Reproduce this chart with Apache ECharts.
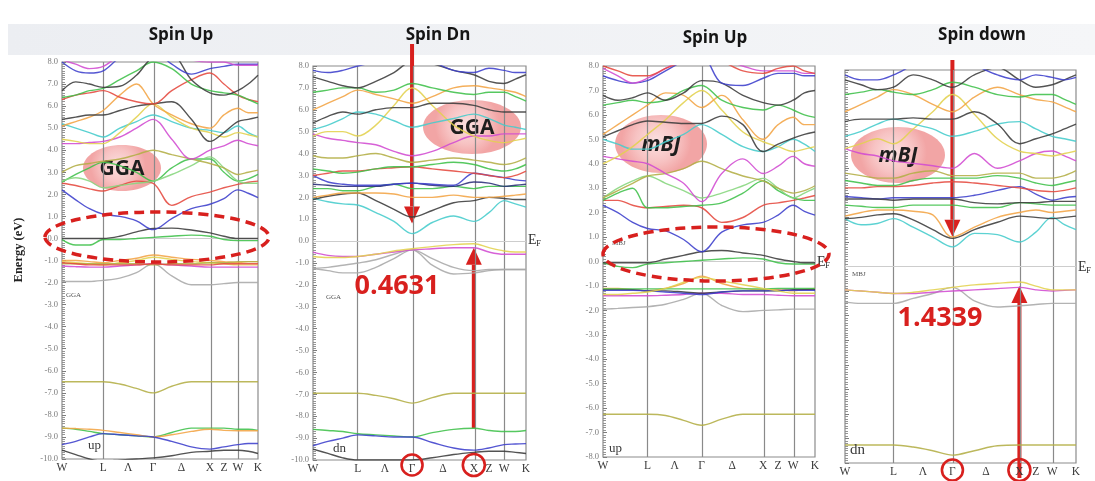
<!DOCTYPE html>
<html>
<head>
<meta charset="utf-8">
<script src="https://cdn.jsdelivr.net/npm/echarts@6/dist/echarts.min.js"></script>
<style>
  html, body { margin: 0; padding: 0; background: #ffffff; }
  #chart { width: 1095px; height: 481px; }
</style>
</head>
<body>
<div id="chart"></div>
<script>
// k-path sampling along W–L–Γ–X–W–K (fraction of path length)
const kPath = [0, 0.07, 0.14, 0.21, 0.295, 0.38, 0.465, 0.56, 0.66, 0.755, 0.826, 0.897, 0.95, 1.0];
const kLabelPos = [0, 0.21, 0.3375, 0.465, 0.61, 0.755, 0.826, 0.897, 1];
const kLabels = ['W', 'L', 'Λ', 'Γ', 'Δ', 'X', 'Z', 'W', 'K'];
const kLinePos = [0.21, 0.465, 0.755, 0.897];
const GAMMA = 6, XPT = 9;

const panelTitles = ['Spin Up', 'Spin Dn', 'Spin Up', 'Spin down'];
const methodTags = ['GGA', 'GGA', 'mBJ', 'mBJ'];
const codeTags = ['GGA', 'GGA', 'MBJ', 'MBJ'];
const spinTags = ['up', 'dn', 'up', 'dn'];
const energyRanges = [[-10, 8], [-10, 8], [-8, 8], [-8, 8]];

// GGA, spin up: band energies (eV) at kPath
const ggaUpBands = [
  [-1.95,-1.95,-1.95,-1.9,-1.8,-1.55,-1.15,-1.7,-2.1,-2.1,-2.05,-2.0,-2.0,-2.0],
  [-1.25,-1.28,-1.3,-1.3,-1.25,-1.2,-1.15,-1.2,-1.25,-1.3,-1.3,-1.3,-1.3,-1.3],
  [-1.05,-1.1,-1.15,-1.2,-1.1,-1.0,-0.85,-0.95,-1.05,-1.1,-1.15,-1.2,-1.2,-1.2],
  [-1.0,-1.0,-1.05,-1.1,-1.0,-0.9,-0.75,-0.85,-0.95,-1.0,-1.05,-1.1,-1.05,-1.05],
  [-1.15,-1.15,-1.15,-1.15,-1.15,-1.15,-1.2,-1.15,-1.15,-1.1,-1.1,-1.05,-1.05,-1.05],
  [-1.1,-1.15,-1.2,-1.2,-1.2,-1.2,-1.15,-1.2,-1.2,-1.2,-1.15,-1.15,-1.15,-1.15],
  [-0.05,-0.3,-0.3,-0.05,-0.05,0.0,0.05,0.1,0.15,0.1,-0.05,-0.1,-0.1,-0.1],
  [0.0,0.0,0.0,0.0,0.1,0.3,0.45,0.47,0.38,0.25,0.1,0.0,0.0,0.0],
  [2.2,1.75,1.35,1.1,1.0,0.8,0.4,0.9,1.35,1.55,1.8,2.2,2.05,1.85],
  [2.5,2.4,2.25,2.15,2.4,2.6,2.5,1.5,1.9,2.1,2.3,2.45,2.55,2.6],
  [2.55,2.9,3.2,3.45,3.3,3.0,2.6,3.2,3.6,3.6,3.0,2.6,2.7,2.9],
  [2.6,2.75,2.6,2.3,2.4,2.5,2.6,2.9,3.3,3.7,3.2,2.6,2.5,2.5],
  [3.0,3.3,3.4,3.5,3.6,3.8,4.0,3.8,3.6,3.4,3.2,2.9,3.0,3.1],
  [4.3,4.3,4.35,4.4,4.6,5.0,5.4,4.5,3.6,4.0,4.2,4.45,4.3,4.2],
  [5.2,5.0,4.8,4.6,5.0,5.3,5.6,5.3,5.0,4.9,4.8,5.1,4.8,4.6],
  [4.5,4.4,4.3,4.3,4.8,5.5,6.1,5.5,5.0,4.8,4.6,4.8,4.7,4.6],
  [5.1,5.3,5.5,5.8,6.5,7.0,6.1,5.6,5.2,5.0,5.6,5.9,5.7,5.7],
  [5.4,5.5,5.6,5.6,5.8,6.0,6.1,6.2,5.4,4.4,4.8,5.3,5.4,5.5],
  [6.3,6.5,6.6,6.7,6.4,6.2,6.1,6.7,7.2,7.5,7.0,6.5,6.3,6.2],
  [6.4,6.5,6.7,6.8,7.2,7.6,8.0,7.7,7.0,6.7,6.6,6.5,6.3,6.1],
  [6.7,7.1,7.0,6.85,6.9,7.4,8.2,8.3,7.2,6.6,6.5,6.7,7.0,7.4],
  [8.0,7.6,7.5,7.6,8.2,8.5,8.5,7.9,7.45,7.7,7.8,7.9,7.9,7.9],
  [8.1,7.9,7.7,7.8,8.3,8.5,8.5,8.5,8.1,8.0,8.0,7.85,7.85,7.85],
  [-6.5,-6.5,-6.5,-6.5,-6.6,-6.8,-7.0,-6.7,-6.5,-6.5,-6.5,-6.5,-6.5,-6.5],
  [-8.6,-8.65,-8.75,-8.85,-8.9,-8.95,-9.0,-8.8,-8.6,-8.6,-8.6,-8.65,-8.65,-8.7],
  [-8.6,-8.62,-8.65,-8.7,-8.8,-8.9,-9.0,-8.9,-8.75,-8.65,-8.7,-8.72,-8.72,-8.72],
  [-9.35,-9.2,-9.0,-8.85,-8.9,-8.95,-9.0,-9.2,-9.45,-9.55,-9.45,-9.35,-9.3,-9.3],
  [-9.6,-9.8,-10.0,-10.1,-10.05,-10.0,-9.95,-9.85,-9.7,-9.65,-9.6,-9.6,-9.65,-9.75]
];
const ggaUpColors = ['gray','magenta','yellow','orange','olive','red','green','dark','blue','red','green','lime','olive',
  'magenta','cyan','yellow','orange','dark','red','green','dark','blue','magenta','olive','green','orange','blue','dark'];

// GGA, spin down
const ggaDnBands = [
  [-1.25,-1.35,-1.45,-1.45,-1.2,-0.8,-0.4,-1.1,-1.5,-1.45,-1.35,-1.3,-1.3,-1.3],
  [-1.25,-1.2,-1.1,-1.0,-0.85,-0.6,-0.4,-0.8,-1.2,-1.35,-1.3,-1.3,-1.3,-1.3],
  [-0.5,-0.65,-0.7,-0.7,-0.6,-0.5,-0.4,-0.35,-0.3,-0.3,-0.5,-0.6,-0.6,-0.6],
  [-0.7,-0.75,-0.75,-0.7,-0.6,-0.45,-0.35,-0.25,-0.16,-0.12,-0.3,-0.45,-0.5,-0.5],
  [1.95,1.8,1.7,1.65,1.3,0.9,0.3431,0.85,1.15,0.9,1.3,1.85,1.7,1.55],
  [1.9,2.05,2.15,2.2,1.85,1.45,1.1,1.4,1.75,1.85,2.0,1.95,1.9,1.9],
  [2.0,2.1,2.2,2.2,2.2,2.15,2.0,2.0,2.1,2.0,2.0,2.05,2.1,2.15],
  [2.4,2.4,2.3,2.3,2.5,2.6,2.4,2.4,2.5,2.4,2.5,2.5,2.5,2.5],
  [2.6,2.55,2.5,2.5,2.5,2.6,2.65,2.55,2.5,2.7,2.65,2.5,2.55,2.6],
  [3.0,2.7,2.6,2.55,2.55,2.6,2.65,2.6,2.55,3.1,3.0,2.9,2.8,2.75],
  [3.0,3.1,3.2,3.2,3.3,3.35,3.4,3.3,3.2,3.1,3.0,2.9,3.0,3.2],
  [3.3,3.2,3.1,3.15,3.3,3.4,3.4,3.5,3.6,3.5,3.3,3.2,3.3,3.5],
  [3.9,3.8,3.8,3.9,4.0,3.8,3.6,3.7,3.8,3.7,3.6,3.5,3.6,3.8],
  [4.9,4.7,4.6,4.5,4.4,4.1,3.9,4.1,4.5,4.8,4.8,4.9,4.9,4.9],
  [4.8,5.0,5.0,4.8,5.3,6.2,7.0,6.2,5.3,4.8,4.6,4.5,4.6,4.7],
  [5.1,5.3,5.6,5.9,5.8,5.5,5.2,5.4,5.6,5.8,5.6,5.3,5.2,5.1],
  [5.4,5.7,5.9,5.8,6.0,6.1,6.1,6.3,6.3,6.2,6.0,5.9,5.9,5.9],
  [6.0,6.3,6.6,6.9,6.7,6.5,6.3,6.6,7.0,7.1,7.0,6.9,6.8,6.6],
  [6.8,6.9,7.0,7.0,6.8,6.9,7.2,7.0,6.8,6.7,6.8,6.8,6.6,6.4],
  [7.5,7.3,7.1,7.0,7.3,7.7,8.2,8.1,7.8,7.6,7.3,7.2,7.4,7.6],
  [7.8,7.7,7.8,8.0,8.2,8.5,8.5,8.2,7.8,7.7,7.9,7.8,7.7,7.7],
  [-6.95,-6.95,-6.95,-6.95,-7.05,-7.2,-7.4,-7.15,-6.95,-6.95,-6.95,-6.95,-6.95,-6.95],
  [-8.6,-8.65,-8.7,-8.8,-8.85,-8.9,-8.95,-8.75,-8.6,-8.55,-8.65,-8.7,-8.7,-8.65],
  [-9.35,-9.15,-9.0,-8.85,-8.9,-8.95,-8.95,-9.2,-9.45,-9.55,-9.45,-9.3,-9.27,-9.25],
  [-9.5,-9.7,-9.9,-10.0,-10.0,-10.0,-10.0,-9.9,-9.75,-9.65,-9.6,-9.6,-9.65,-9.7]
];
const ggaDnColors = ['gray','gray','magenta','yellow','cyan','dark','orange','green','navy','blue','red','green','olive',
  'magenta','yellow','cyan','dark','orange','green','dark','blue','olive','green','blue','dark'];

// mBJ, spin up
const mbjUpBands = [
  [-1.95,-1.92,-1.88,-1.85,-1.75,-1.55,-1.3,-1.8,-2.05,-2.0,-1.98,-1.95,-1.95,-1.95],
  [-1.4,-1.4,-1.4,-1.4,-1.38,-1.35,-1.3,-1.3,-1.35,-1.35,-1.38,-1.4,-1.4,-1.4],
  [-1.1,-1.1,-1.15,-1.2,-1.1,-0.9,-0.6,-0.9,-1.1,-1.15,-1.15,-1.2,-1.15,-1.1],
  [-1.15,-1.15,-1.15,-1.2,-1.2,-1.25,-1.3,-1.25,-1.2,-1.2,-1.2,-1.15,-1.15,-1.15],
  [-1.12,-1.12,-1.12,-1.12,-1.12,-1.12,-1.12,-1.12,-1.12,-1.12,-1.1,-1.1,-1.1,-1.1],
  [-1.18,-1.18,-1.18,-1.2,-1.25,-1.3,-1.35,-1.25,-1.2,-1.2,-1.18,-1.18,-1.18,-1.18],
  [-1.35,-1.35,-1.3,-1.25,-1.1,-0.85,-0.65,-0.8,-0.95,-1.1,-1.2,-1.3,-1.3,-1.3],
  [-0.05,-0.2,-0.25,-0.1,-0.05,0.0,0.05,0.1,0.15,0.1,-0.05,-0.1,-0.1,-0.1],
  [-0.05,-0.05,-0.05,-0.05,0.1,0.25,0.4,0.45,0.35,0.25,0.1,0.0,-0.05,-0.05],
  [2.3,2.0,1.6,1.35,1.25,0.9,0.4,1.2,1.5,1.6,1.9,2.3,2.05,1.9],
  [2.5,2.5,2.3,2.2,2.25,2.3,2.2,1.6,1.8,2.3,2.4,2.5,2.6,2.7],
  [2.5,2.8,3.0,2.2,2.2,2.25,2.3,2.4,2.8,3.3,2.9,2.6,2.5,2.5],
  [2.6,3.0,3.3,3.5,3.2,2.9,2.6,2.8,3.1,3.4,3.0,2.6,2.8,3.0],
  [2.6,2.9,3.2,3.5,3.6,3.8,4.1,3.8,3.5,3.3,3.0,2.8,2.9,3.1],
  [4.3,4.2,4.1,4.0,3.6,3.2,2.45,3.6,4.2,3.6,3.9,4.3,4.0,3.9],
  [5.0,4.8,4.6,4.6,4.9,5.2,5.6,5.2,4.7,4.5,4.7,5.0,4.8,4.5],
  [4.0,4.3,4.7,5.2,5.8,6.5,7.0,6.2,5.3,4.9,4.7,4.5,4.6,4.7],
  [5.1,5.35,5.6,5.75,5.7,5.65,5.65,5.95,5.6,4.5,4.8,5.05,5.2,5.3],
  [5.2,5.6,6.0,6.4,6.9,6.8,6.3,6.8,5.8,5.0,5.6,5.9,5.6,5.6],
  [6.4,6.5,6.6,6.5,6.6,7.0,7.2,6.6,6.3,6.2,6.4,6.2,6.0,5.9],
  [6.8,6.6,6.7,6.9,6.6,6.9,7.4,7.3,6.8,6.5,6.4,6.6,6.9,7.0],
  [7.6,7.4,7.3,7.4,7.8,8.2,8.4,7.3,7.2,7.5,7.7,7.7,7.6,7.6],
  [7.9,7.6,7.3,7.5,7.9,8.3,8.5,8.3,8.0,7.8,7.8,7.8,7.7,7.7],
  [8.0,7.8,7.6,7.6,7.9,8.2,8.5,8.2,7.8,7.7,7.9,8.0,7.8,7.7],
  [-6.25,-6.25,-6.25,-6.25,-6.3,-6.5,-6.7,-6.45,-6.25,-6.25,-6.25,-6.25,-6.25,-6.25]
];
const mbjUpColors = ['gray','magenta','orange','dark','green','blue','yellow','green','dark','blue','red','green','lime',
  'olive','magenta','cyan','yellow','dark','orange','green','dark','blue','magenta','red','olive'];

// mBJ, spin down
const mbjDnBands = [
  [-1.45,-1.5,-1.5,-1.5,-1.3,-1.1,-0.85,-1.4,-1.65,-1.6,-1.55,-1.5,-1.5,-1.5],
  [-0.95,-1.0,-1.05,-1.1,-1.1,-1.05,-1.0,-0.95,-0.9,-0.85,-0.95,-1.0,-0.97,-0.95],
  [-0.95,-1.0,-1.05,-1.1,-1.05,-0.95,-0.85,-0.75,-0.68,-0.6339,-0.8,-0.95,-0.95,-0.95],
  [1.95,1.7,1.75,1.95,1.6,1.2,0.8,1.35,1.3,1.0,1.4,2.0,1.7,1.5],
  [1.95,2.0,2.1,2.15,1.9,1.5,1.15,1.5,1.8,2.05,2.0,1.95,2.0,2.05],
  [2.05,2.2,2.3,2.3,2.25,2.1,1.2,1.6,2.0,2.2,2.3,2.2,2.25,2.3],
  [2.5,2.45,2.4,2.4,2.5,2.5,2.5,2.4,2.4,2.6,2.55,2.5,2.5,2.5],
  [2.85,2.8,2.75,2.8,2.8,2.8,2.8,2.9,3.1,3.25,2.95,2.7,2.8,2.85],
  [2.75,2.75,2.75,2.7,2.75,2.75,2.75,2.6,2.55,2.6,2.6,2.65,2.65,2.65],
  [3.2,3.2,3.25,3.25,3.3,3.4,3.45,3.4,3.3,3.2,3.1,3.05,3.1,3.2],
  [3.5,3.4,3.3,3.3,3.5,3.6,3.6,3.6,3.7,3.6,3.4,3.3,3.4,3.5],
  [3.8,3.7,3.6,3.6,3.8,3.9,3.7,3.7,3.8,3.8,3.6,3.6,3.7,3.9],
  [4.8,4.6,4.5,4.3,4.2,4.1,4.0,4.6,4.0,4.3,4.6,4.7,4.5,4.3],
  [4.8,5.0,5.2,5.0,5.6,6.3,7.0,6.2,5.2,4.7,4.6,4.5,4.6,4.7],
  [5.3,5.5,5.8,6.0,5.8,5.6,5.3,5.5,5.8,5.9,5.6,5.3,5.2,5.1],
  [5.9,6.0,6.0,6.0,6.05,6.0,6.0,6.3,5.8,5.0,5.2,5.4,5.6,5.8],
  [6.3,6.6,6.9,7.2,7.0,6.6,6.3,6.9,7.3,7.0,6.8,6.7,6.5,6.3],
  [7.0,7.1,7.2,7.1,7.0,7.2,7.5,7.3,7.0,6.9,7.0,7.0,6.8,6.6],
  [7.6,7.4,7.2,7.3,7.8,7.6,7.3,7.8,8.1,7.6,7.3,7.4,7.6,7.8],
  [7.8,7.6,7.6,7.8,8.2,8.5,8.5,8.2,7.8,7.6,7.8,7.7,7.6,7.7],
  [-7.27,-7.27,-7.27,-7.27,-7.35,-7.5,-7.68,-7.5,-7.3,-7.27,-7.27,-7.27,-7.27,-7.27]
];
const mbjDnColors = ['gray','magenta','yellow','cyan','dark','orange','green','blue','dark','red','green','olive',
  'magenta','yellow','cyan','dark','orange','green','dark','blue','olive'];

// which band holds the conduction minimum (at Γ) and valence maximum (at X)
const gapPanels = [1, 3];
const gapCbmBand = [4, 3];
const gapVbmBand = [3, 2];

const palette = {
  gray: '#a9a9a9', magenta: '#d24bd2', yellow: '#e2d24e', orange: '#f2a444', olive: '#b3ae45',
  red: '#e5493f', green: '#3fc04a', lime: '#86d67d', dark: '#3b3b3b', blue: '#3c3fcc',
  navy: '#2c2f7a', cyan: '#45cccc'
};

const panelBands = [ggaUpBands, ggaDnBands, mbjUpBands, mbjDnBands];
const panelColors = [ggaUpColors, ggaDnColors, mbjUpColors, mbjDnColors];

const gridBoxes = [
  { left: 62, top: 62, width: 196, height: 397 },
  { left: 313, top: 66, width: 213, height: 394 },
  { left: 603, top: 66, width: 212, height: 391 },
  { left: 845, top: 70, width: 231, height: 393 }
];

const serif = 'Liberation Serif, DejaVu Serif, serif';
const chart = echarts.init(document.getElementById('chart'), null, { renderer: 'canvas' });

function kLabelFor(v) {
  for (let i = 0; i < kLabelPos.length; i++) {
    if (Math.abs(kLabelPos[i] - v) < 1e-6) return kLabels[i];
  }
  return '';
}

const grid = gridBoxes.map(b => Object.assign({
  show: true, borderColor: '#8c8c8c', borderWidth: 1.2, backgroundColor: 'transparent',
  containLabel: false, outerBoundsMode: 'none'
}, b));

const xAxis = gridBoxes.map((b, i) => ({
  gridIndex: i, type: 'value', min: 0, max: 1,
  axisLine: { show: false }, splitLine: { show: false }, axisTick: { show: false },
  axisLabel: {
    customValues: kLabelPos, formatter: kLabelFor, showMinLabel: true, showMaxLabel: true,
    hideOverlap: false, fontFamily: serif, fontSize: 11.5, color: '#3a3a3a', margin: 3
  }
}));

const yAxis = gridBoxes.map((b, i) => ({
  gridIndex: i, type: 'value', min: energyRanges[i][0], max: energyRanges[i][1], interval: 1,
  axisLine: { show: false }, splitLine: { show: false },
  axisTick: { show: true, inside: true, length: 4, lineStyle: { color: '#7c7c7c', width: 1 } },
  minorTick: { show: true, splitNumber: 10, length: 3, lineStyle: { color: '#8a8a8a', width: 0.9 } },
  axisLabel: {
    show: i < 3, formatter: v => v.toFixed(1), fontFamily: serif, fontSize: 8.5,
    color: '#7a7a7a', margin: 4, showMinLabel: true, showMaxLabel: true
  }
}));

const series = [];
panelBands.forEach((bands, p) => {
  bands.forEach((e, b) => {
    const s = {
      type: 'line', xAxisIndex: p, yAxisIndex: p, silent: true,
      data: kPath.map((k, j) => [k, e[j]]),
      smooth: 0.35, showSymbol: false, clip: true, z: 3,
      lineStyle: { color: palette[panelColors[p][b]], width: 1.4, opacity: 0.88 }
    };
    if (b === 0) {
      s.markLine = {
        silent: true, symbol: 'none', animation: false, label: { show: false }, z: 1,
        data: kLinePos.map(x => ({ xAxis: x, lineStyle: { color: '#8a8a8a', width: 1.2, type: 'solid' } }))
          .concat([{ yAxis: 0, lineStyle: { color: '#cdcdcd', width: 1.2, type: 'solid' } }])
      };
    }
    series.push(s);
  });
});

chart.setOption({
  animation: false,
  backgroundColor: '#ffffff',
  grid, xAxis, yAxis, series
});

// ---- annotations ----
const px = (p, k, e) => chart.convertToPixel({ gridIndex: p }, [k, e]);
const RED = '#d8201e';

function vArrow(x, yStart, yTip) {
  const dir = yTip > yStart ? 1 : -1;
  const headLen = 17, headHalf = 8;
  const yBase = yTip - dir * headLen;
  return {
    type: 'group', z: 60, children: [
      { type: 'line', shape: { x1: x, y1: yStart, x2: x, y2: yBase }, style: { stroke: RED, lineWidth: 4 } },
      { type: 'polygon', shape: { points: [[x - headHalf, yBase], [x + headHalf, yBase], [x, yTip]] }, style: { fill: RED } }
    ]
  };
}

function pinkBadge(cx, cy, rx, ry, label) {
  return {
    type: 'group', z: 50, children: [
      {
        type: 'ellipse', shape: { cx, cy, rx, ry },
        style: {
          fill: {
            type: 'radial', x: 0.45, y: 0.45, r: 0.6,
            colorStops: [{ offset: 0, color: '#fbe0e0' }, { offset: 0.6, color: '#f7c3c3' }, { offset: 1, color: '#f2a5a5' }]
          }
        }
      },
      {
        type: 'text', x: cx, y: cy + 1,
        style: {
          text: label, fill: '#1e1e1e', font: (label === 'mBJ' ? 'italic ' : '') + 'bold 21px "Open Sans", sans-serif',
          textAlign: 'center', textVerticalAlign: 'middle'
        }
      }
    ]
  };
}

function dashedRing(cx, cy, rx, ry) {
  return {
    type: 'ellipse', z: 55, shape: { cx, cy, rx, ry },
    style: { fill: null, stroke: RED, lineWidth: 3.5, lineDash: [10, 6] }
  };
}

function ring(cx, cy, r) {
  return { type: 'circle', z: 55, shape: { cx, cy, r }, style: { fill: null, stroke: RED, lineWidth: 2.6 } };
}

function smallText(x, y, text, size, color) {
  return { type: 'text', z: 40, x, y, style: { text, font: size + 'px ' + serif, fill: color || '#444' } };
}

function fermiLabel(x, y) {
  return {
    type: 'group', z: 40, children: [
      { type: 'text', x, y, style: { text: 'E', font: '14px ' + serif, fill: '#333' } },
      { type: 'text', x: x + 8, y: y + 6, style: { text: 'F', font: '9px ' + serif, fill: '#333' } }
    ]
  };
}

const graphics = [];

// header band and panel titles
graphics.push({
  type: 'rect', z: 0, shape: { x: 8, y: 24, width: 1087, height: 31 },
  style: { fill: { type: 'linear', x: 0, y: 0, x2: 1, y2: 0, colorStops: [{ offset: 0, color: '#eceef2' }, { offset: 1, color: '#f5f6f8' }] } }
});
const titleX = [181, 438, 715, 982];
const titleY = [35, 35, 38, 35];
panelTitles.forEach((t, i) => graphics.push({
  type: 'text', z: 45, x: titleX[i], y: titleY[i],
  style: { text: t, font: 'bold 17px "Open Sans", sans-serif', fill: '#151515', textAlign: 'center', textVerticalAlign: 'middle' }
}));

// axis name
graphics.push({
  type: 'text', z: 40, x: 19, y: 250, rotation: Math.PI / 2,
  style: { text: 'Energy (eV)', font: 'bold 12.5px ' + serif, fill: '#222', textAlign: 'center', textVerticalAlign: 'middle' }
});

// code and spin tags inside the panels
const codeTagPos = [[66, 292], [326, 294], [612, 240], [852, 271]];
const spinTagPos = [[88, 439], [333, 442], [609, 442], [850, 443]];
const spinTagSize = [13, 13, 13, 15];
codeTags.forEach((t, i) => graphics.push(smallText(codeTagPos[i][0], codeTagPos[i][1], t, 7, '#555')));
spinTags.forEach((t, i) => graphics.push(smallText(spinTagPos[i][0], spinTagPos[i][1], t, spinTagSize[i], '#3a3a3a')));

// Fermi level labels
graphics.push(fermiLabel(528, 233));
graphics.push(fermiLabel(817, 255));
graphics.push(fermiLabel(1078, 260));

// method badges
const badgeGeom = [[122, 168, 39, 23], [472, 127, 49, 27], [661, 144, 46, 29], [898, 155, 47, 28]];
methodTags.forEach((t, i) => graphics.push(pinkBadge(badgeGeom[i][0], badgeGeom[i][1], badgeGeom[i][2], badgeGeom[i][3], t)));

// rings around the bands crossing the Fermi level (spin up)
graphics.push(dashedRing(157, 237, 112, 25));
graphics.push(dashedRing(716, 254, 113, 27));

// band-gap arrows for the spin-down channels
const arrowTop = [44, 60];
const gapTextPos = [[397, 286], [940, 318]];
gapPanels.forEach((p, n) => {
  const bands = panelBands[p];
  const cbmE = bands[gapCbmBand[n]][GAMMA];
  const vbmE = bands[gapVbmBand[n]][XPT];
  const cbm = px(p, kPath[GAMMA], cbmE);
  const vbm = px(p, kPath[XPT], vbmE);
  const bottomY = gridBoxes[p].top + gridBoxes[p].height;
  graphics.push(vArrow(cbm[0], arrowTop[n], cbm[1] - 10));
  const upStart = p === 1 ? px(p, kPath[XPT], bands[22][XPT])[1] : bottomY + 15;
  graphics.push(vArrow(vbm[0], upStart, vbm[1] + 4));
  graphics.push(ring(cbm[0], bottomY + (p === 1 ? 5 : 7), 10.5));
  graphics.push(ring(vbm[0], bottomY + (p === 1 ? 5 : 7), 11));
  graphics.push({
    type: 'text', z: 60, x: gapTextPos[n][0], y: gapTextPos[n][1],
    style: {
      text: (cbmE - vbmE).toFixed(4), font: 'bold 27px "Open Sans", sans-serif', fill: RED,
      textAlign: 'center', textVerticalAlign: 'middle'
    }
  });
});

chart.setOption({ graphic: graphics });
</script>
</body>
</html>
